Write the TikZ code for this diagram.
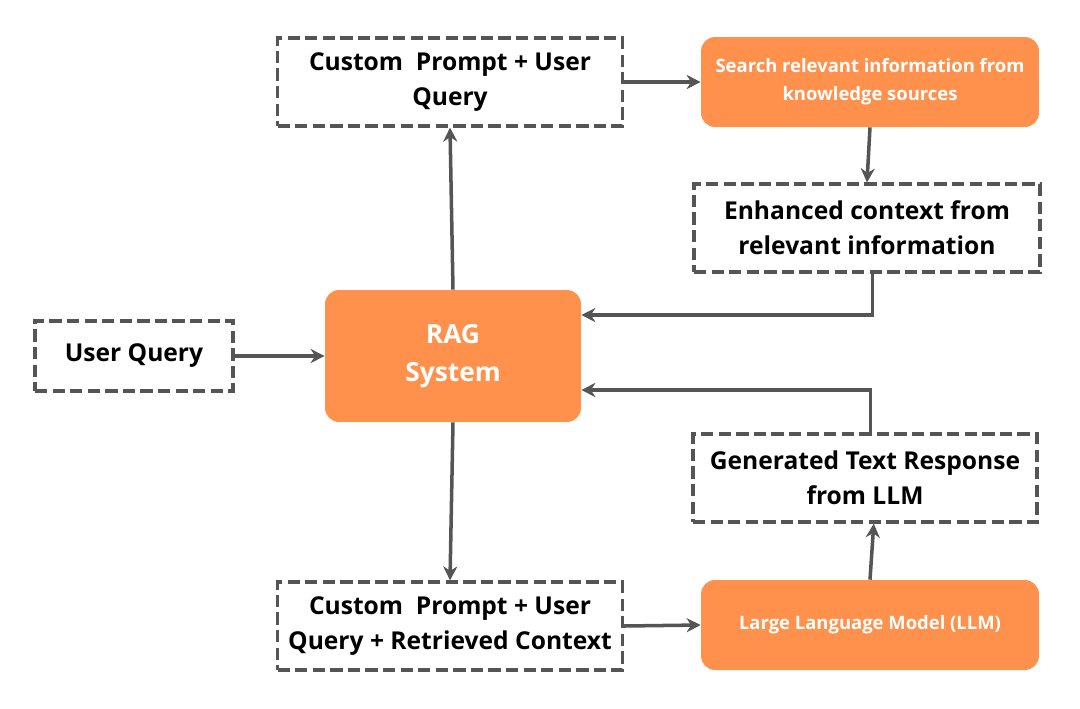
\documentclass[tikz,border=0pt]{standalone}
\usepackage{fontspec}
\setmainfont{Open Sans}
\usepackage{tikz}
\usetikzlibrary{arrows.meta}
\definecolor{ragorange}{HTML}{FF914D}
\definecolor{lines}{HTML}{555555}
\begin{document}
\begin{tikzpicture}[x=0.02cm, y=-0.02cm, inner sep=0pt]
    \tikzstyle{box}=[rectangle, draw=lines, line width=1.8pt, dash pattern=on 7pt off 3pt, fill=white, text=black, align=center, font=\fontsize{14}{20}\selectfont\bfseries]
    \tikzstyle{sys}=[rectangle, rounded corners=8pt, fill=ragorange, text=white, align=center, font=\fontsize{10.5}{16}\selectfont\bfseries]
    \tikzstyle{flow}=[-{Stealth[length=8pt,width=8pt]}, draw=lines, line width=2pt]

    \useasboundingbox (0,0) rectangle (1080,708);

    \node[box, minimum width=6.9cm, minimum height=1.76cm] (CP1) at (450,82) {Custom\ \ Prompt + User\\Query};
    \node[sys, minimum width=6.76cm, minimum height=1.8cm] (Search) at (870,82) {Search relevant information from\\knowledge sources};
    \node[box, minimum width=6.92cm, minimum height=1.76cm] (Enh) at (867,228) {Enhanced context from\\relevant information};
    \node[sys, minimum width=5.12cm, minimum height=2.64cm, font=\fontsize{15}{22}\selectfont\bfseries] (RAG) at (453,356) {RAG\\System};
    \node[box, minimum width=3.96cm, minimum height=1.4cm] (UQ) at (134,356) {User Query};
    \node[box, minimum width=6.88cm, minimum height=1.76cm] (Gen) at (865,478) {Generated Text Response\\from LLM};
    \node[box, minimum width=6.9cm, minimum height=1.76cm] (CP2) at (450,626) {Custom\ \ Prompt + User\\Query + Retrieved Context};
    \node[sys, minimum width=6.76cm, minimum height=1.8cm] (LLM) at (870,625) {Large Language Model (LLM)};

    \draw[flow] (RAG.north) to (CP1.south);
    \draw[flow] (CP1.east) to (Search.west);
    \draw[flow] (Search.south) to (Enh.south |- Enh.north);
    \draw[flow] ([xshift=3pt] Enh.south) |- ([yshift=0.82cm] RAG.east);
    \draw[flow] (UQ.east) to (RAG.west);
    \draw[flow] (RAG.south) to (CP2.north);
    \draw[flow] (CP2.east) to (LLM.west);
    \draw[flow] (LLM.north) to ([xshift=5pt] Gen.south);
    \draw[flow] ([xshift=3pt] Gen.north) |- ([yshift=-0.68cm] RAG.east);
\end{tikzpicture}
\end{document}
